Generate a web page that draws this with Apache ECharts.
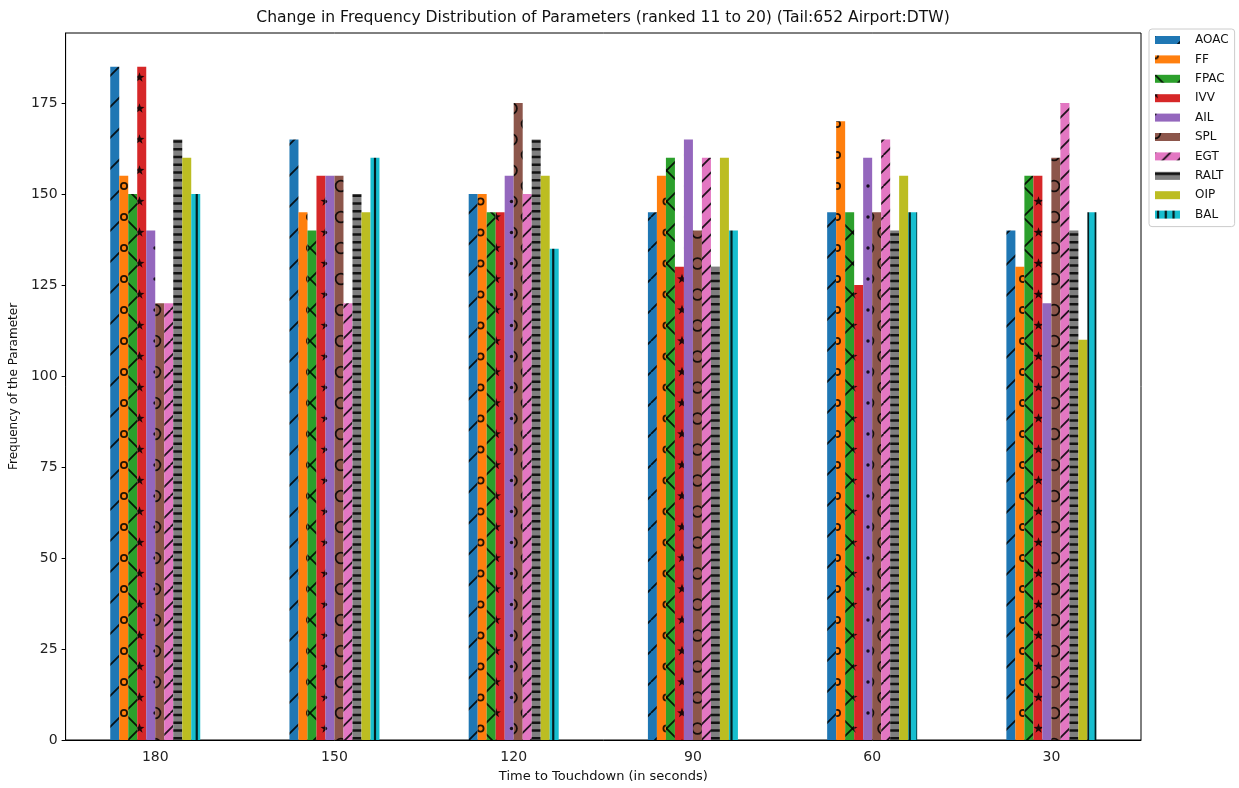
<!DOCTYPE html>
<html>
<head>
<meta charset="utf-8">
<script src="https://cdn.jsdelivr.net/npm/echarts@6/dist/echarts.min.js"></script>
<style>
  html, body { margin: 0; padding: 0; background: #fff; }
  #chart { width: 1239px; height: 788px; }
</style>
</head>
<body>
<div id="chart"></div>
<script>
// Time before touchdown (seconds), one bar group per value
const categories = ['180', '150', '120', '90', '60', '30'];

// Frequency of each parameter at each time step
const AOAC = [185, 165, 150, 145, 145, 140];
const FF   = [155, 145, 150, 155, 170, 130];
const FPAC = [150, 140, 145, 160, 145, 155];
const IVV  = [185, 155, 145, 130, 125, 155];
const AIL  = [140, 155, 155, 165, 160, 120];
const SPL  = [120, 155, 175, 140, 145, 160];
const EGT  = [120, 120, 150, 160, 165, 175];
const RALT = [165, 150, 165, 130, 140, 140];
const OIP  = [160, 145, 155, 160, 155, 110];
const BAL  = [150, 160, 135, 140, 145, 145];

const yTicks = [0, 25, 50, 75, 100, 125, 150, 175];

const seriesDefs = [
  { name: 'AOAC', data: AOAC, color: '#1f77b4', hatch: '/' },
  { name: 'FF',   data: FF,   color: '#ff7f0e', hatch: 'o' },
  { name: 'FPAC', data: FPAC, color: '#2ca02c', hatch: 'x' },
  { name: 'IVV',  data: IVV,  color: '#d62728', hatch: '*' },
  { name: 'AIL',  data: AIL,  color: '#9467bd', hatch: '.' },
  { name: 'SPL',  data: SPL,  color: '#8c564b', hatch: 'O' },
  { name: 'EGT',  data: EGT,  color: '#e377c2', hatch: '//' },
  { name: 'RALT', data: RALT, color: '#7f7f7f', hatch: '----' },
  { name: 'OIP',  data: OIP,  color: '#bcbd22', hatch: '' },
  { name: 'BAL',  data: BAL,  color: '#17becf', hatch: '||||' }
];

// ---- hatch fills (repeating canvas tiles) ----
const T = 31;
const INK = 'rgba(0,0,0,0.85)';

function lattice(fn) {
  for (let i = -1; i <= 1; i++) {
    for (let j = -1; j <= 1; j++) {
      fn(i * T, j * T);
      fn(i * T + T / 2, j * T + T / 2);
    }
  }
}

function drawStar(ctx, cx, cy, ro, ri) {
  ctx.beginPath();
  for (let k = 0; k < 10; k++) {
    const r = k % 2 === 0 ? ro : ri;
    const a = -Math.PI / 2 + k * Math.PI / 5;
    const px = cx + r * Math.cos(a), py = cy + r * Math.sin(a);
    if (k === 0) ctx.moveTo(px, py); else ctx.lineTo(px, py);
  }
  ctx.closePath();
  ctx.fill();
}

function diagonals(ctx, n, rising) {
  ctx.beginPath();
  for (let k = -n; k <= 2 * n; k++) {
    const off = k * T / n;
    if (rising) { ctx.moveTo(off, T); ctx.lineTo(off + T, 0); }
    else { ctx.moveTo(off, 0); ctx.lineTo(off + T, T); }
  }
  ctx.stroke();
}

function hatchFill(bg, hatch) {
  if (!hatch) return bg;
  const c = document.createElement('canvas');
  c.width = T; c.height = T;
  const ctx = c.getContext('2d');
  ctx.fillStyle = bg;
  ctx.fillRect(0, 0, T, T);
  ctx.strokeStyle = INK;
  ctx.fillStyle = INK;
  ctx.lineWidth = 1.8;
  switch (hatch) {
    case '/': diagonals(ctx, 1, true); break;
    case '//': diagonals(ctx, 2, true); break;
    case 'x': diagonals(ctx, 1, true); diagonals(ctx, 1, false); break;
    case 'o':
      lattice((x, y) => { ctx.beginPath(); ctx.arc(x, y, 3.1, 0, Math.PI * 2); ctx.stroke(); });
      break;
    case 'O':
      lattice((x, y) => { ctx.beginPath(); ctx.arc(x, y, 5.4, 0, Math.PI * 2); ctx.stroke(); });
      break;
    case '.':
      lattice((x, y) => { ctx.beginPath(); ctx.arc(x, y, 1.7, 0, Math.PI * 2); ctx.fill(); });
      break;
    case '*':
      lattice((x, y) => drawStar(ctx, x, y, 5.2, 2.1));
      break;
    case '----':
      ctx.lineWidth = 2.6;
      ctx.beginPath();
      for (let k = 0; k <= 4; k++) { const y = k * T / 4 + 2; ctx.moveTo(0, y); ctx.lineTo(T, y); }
      ctx.stroke();
      break;
    case '||||':
      ctx.lineWidth = 2.2;
      ctx.beginPath();
      for (let k = 0; k <= 4; k++) { const x = k * T / 4 + 3; ctx.moveTo(x, 0); ctx.lineTo(x, T); }
      ctx.stroke();
      break;
  }
  return { image: c, repeat: 'repeat' };
}

const FONT = 'DejaVu Sans';

const chart = echarts.init(document.getElementById('chart'), null, { renderer: 'canvas' });

const option = {
  animation: false,
  backgroundColor: '#fff',
  textStyle: { fontFamily: FONT },
  graphic: [{
    type: 'text',
    x: 603, y: 18,
    style: {
      text: 'Change in Frequency Distribution of Parameters (ranked 11 to 20) (Tail:652 Airport:DTW)',
      fontFamily: FONT, fontSize: 15.6, fill: '#111',
      align: 'center', verticalAlign: 'middle'
    }
  }],
  grid: {
    left: 65, right: 98, top: 33, bottom: 47,
    show: true, borderColor: '#000', borderWidth: 1, backgroundColor: 'transparent'
  },
  legend: {
    orient: 'vertical',
    left: 1149, top: 29,
    padding: [4, 6, 5, 6],
    icon: 'rect',
    itemWidth: 25, itemHeight: 8, itemGap: 5.4,
    borderColor: '#cccccc', borderWidth: 1, borderRadius: 3,
    backgroundColor: '#fff',
    textStyle: { fontFamily: FONT, fontSize: 12, color: '#111', lineHeight: 14, padding: [0, 0, 0, 10] },
    data: seriesDefs.map(s => s.name)
  },
  xAxis: {
    type: 'category',
    data: categories,
    name: 'Time to Touchdown (in seconds)',
    nameLocation: 'middle',
    nameGap: 30,
    nameTextStyle: { fontFamily: FONT, fontSize: 13, color: '#111' },
    axisLine: { lineStyle: { color: '#000', width: 1 } },
    axisTick: { alignWithLabel: true, length: 4, lineStyle: { color: '#000' } },
    axisLabel: { fontFamily: FONT, fontSize: 14, color: '#222', margin: 10 },
    splitLine: { show: false }
  },
  yAxis: {
    type: 'value',
    min: 0, max: 194.25, interval: 25,
    name: 'Frequency of the Parameter',
    nameLocation: 'middle',
    nameGap: 44,
    nameRotate: 90,
    nameTextStyle: { fontFamily: FONT, fontSize: 12, color: '#111' },
    axisLine: { show: true, lineStyle: { color: '#000', width: 1 } },
    axisTick: { show: true, length: 4, lineStyle: { color: '#000' }, customValues: yTicks },
    axisLabel: { fontFamily: FONT, fontSize: 14, color: '#222', margin: 8, customValues: yTicks },
    splitLine: { show: false }
  },
  series: seriesDefs.map(s => ({
    name: s.name,
    type: 'bar',
    data: s.data,
    barWidth: 9,
    barGap: '0%',
    itemStyle: { color: hatchFill(s.color, s.hatch) },
    emphasis: { disabled: true }
  }))
};

chart.setOption(option);
</script>
</body>
</html>
